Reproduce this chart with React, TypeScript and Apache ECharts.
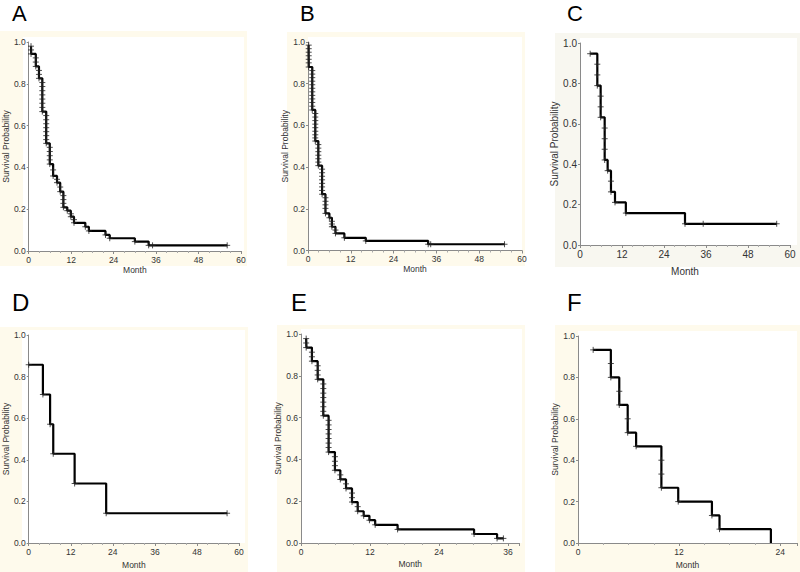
import React, { useEffect, useRef } from "react";
import * as echarts from "echarts";

// ---------- Data (months, survival probability) ----------
const monthsA = [0.65, 0.7, 2.0, 2.9, 3.85, 4.95, 5.95, 6.9, 8.0, 8.9, 9.8, 10.9, 11.9, 12.8, 16.0, 17.0, 21.7, 22.9, 30.0, 33.9, 56.1];
const survA = [0.98, 0.943, 0.883, 0.826, 0.667, 0.515, 0.416, 0.359, 0.327, 0.284, 0.209, 0.193, 0.164, 0.135, 0.116, 0.096, 0.077, 0.061, 0.045, 0.027, 0.027];
const marksA = [
  [0.65, 0.98], [0.65, 0.962], [0.65, 0.943],
  [2.0, 0.924], [2.0, 0.904], [2.0, 0.883],
  [2.9, 0.864], [2.9, 0.845], [2.9, 0.826],
  [3.85, 0.806], [3.85, 0.787], [3.85, 0.767], [3.85, 0.747], [3.85, 0.727], [3.85, 0.707], [3.85, 0.687], [3.85, 0.667],
  [4.95, 0.648], [4.95, 0.628], [4.95, 0.609], [4.95, 0.59], [4.95, 0.571], [4.95, 0.552], [4.95, 0.533], [4.95, 0.515],
  [5.95, 0.496], [5.95, 0.476], [5.95, 0.456], [5.95, 0.436], [5.95, 0.416],
  [6.9, 0.388], [6.9, 0.359], [8.0, 0.343], [8.0, 0.327], [8.9, 0.306], [8.9, 0.284],
  [9.8, 0.265], [9.8, 0.246], [9.8, 0.228], [9.8, 0.209], [10.9, 0.193],
  [11.9, 0.178], [11.9, 0.164], [12.8, 0.15], [12.8, 0.135],
  [16.0, 0.116], [17.0, 0.096], [21.7, 0.077], [22.9, 0.061], [30.0, 0.045], [33.9, 0.027], [35.0, 0.027], [56.1, 0.027],
];

const monthsB = [0.15, 0.2, 1.2, 2.05, 2.9, 3.95, 4.9, 6.0, 6.7, 7.7, 10.2, 16.2, 33.7, 55.1];
const survB = [0.985, 0.88, 0.674, 0.525, 0.407, 0.27, 0.178, 0.157, 0.114, 0.082, 0.061, 0.046, 0.03, 0.03];
const marksB = [
  [0.2, 0.985], [0.2, 0.968], [0.2, 0.951], [0.2, 0.934], [0.2, 0.917], [0.2, 0.9], [0.2, 0.88],
  [1.2, 0.863], [1.2, 0.846], [1.2, 0.829], [1.2, 0.812], [1.2, 0.795], [1.2, 0.778], [1.2, 0.761], [1.2, 0.744], [1.2, 0.727], [1.2, 0.71], [1.2, 0.692], [1.2, 0.674],
  [2.05, 0.657], [2.05, 0.64], [2.05, 0.623], [2.05, 0.606], [2.05, 0.589], [2.05, 0.572], [2.05, 0.555], [2.05, 0.54], [2.05, 0.525],
  [2.9, 0.508], [2.9, 0.491], [2.9, 0.474], [2.9, 0.457], [2.9, 0.44], [2.9, 0.424], [2.9, 0.407],
  [3.95, 0.39], [3.95, 0.373], [3.95, 0.356], [3.95, 0.339], [3.95, 0.322], [3.95, 0.305], [3.95, 0.288], [3.95, 0.27],
  [4.9, 0.253], [4.9, 0.236], [4.9, 0.219], [4.9, 0.202], [4.9, 0.178],
  [6.0, 0.157], [6.7, 0.14], [6.7, 0.127], [6.7, 0.114], [7.7, 0.098], [7.7, 0.082],
  [10.2, 0.061], [16.2, 0.046], [33.7, 0.03], [34.4, 0.03], [55.1, 0.03],
];

const monthsC = [2.9, 4.95, 5.9, 7.05, 7.9, 8.85, 10.0, 13.1, 30.0, 56.2];
const survC = [0.947, 0.789, 0.632, 0.421, 0.368, 0.263, 0.211, 0.158, 0.105, 0.105];
const marksC = [
  [2.9, 0.947], [4.95, 0.895], [4.95, 0.842], [4.95, 0.789], [5.9, 0.737], [5.9, 0.684], [5.9, 0.632],
  [7.05, 0.579], [7.05, 0.526], [7.05, 0.474], [7.05, 0.421], [7.9, 0.368], [8.85, 0.316], [8.85, 0.263],
  [10.0, 0.211], [13.1, 0.158], [30.0, 0.105], [35.2, 0.105], [56.2, 0.105],
];

const monthsD = [0, 4.05, 6.1, 7.0, 13.1, 22.1, 56.6];
const survD = [0.857, 0.714, 0.571, 0.429, 0.286, 0.143, 0.143];
const marksD = [
  [0, 0.857], [4.05, 0.714], [6.1, 0.571], [7.0, 0.429], [13.1, 0.286], [22.1, 0.143], [56.6, 0.143],
];

const monthsE = [0.9, 0.95, 1.9, 2.9, 3.88, 4.8, 5.9, 6.84, 7.83, 8.87, 9.86, 10.9, 11.9, 12.9, 16.8, 30.1, 34.1, 35.2];
const survE = [0.978, 0.935, 0.87, 0.783, 0.609, 0.435, 0.348, 0.304, 0.261, 0.196, 0.152, 0.13, 0.109, 0.087, 0.065, 0.043, 0.022, 0.022];
const marksE = [
  [0.9, 0.978], [0.9, 0.957], [0.9, 0.935],
  [1.9, 0.913], [1.9, 0.891], [1.9, 0.87],
  [2.9, 0.848], [2.9, 0.826], [2.9, 0.804], [2.9, 0.783],
  [3.88, 0.761], [3.88, 0.739], [3.88, 0.717], [3.88, 0.696], [3.88, 0.674], [3.88, 0.652], [3.88, 0.63], [3.88, 0.609],
  [4.8, 0.587], [4.8, 0.565], [4.8, 0.543], [4.8, 0.522], [4.8, 0.5], [4.8, 0.478], [4.8, 0.457], [4.8, 0.435],
  [5.9, 0.413], [5.9, 0.391], [5.9, 0.37], [5.9, 0.348],
  [6.84, 0.326], [6.84, 0.304], [7.83, 0.283], [7.83, 0.261],
  [8.87, 0.239], [8.87, 0.217], [8.87, 0.196], [9.86, 0.174], [9.86, 0.152],
  [10.9, 0.13], [11.9, 0.109], [12.9, 0.087], [16.8, 0.065], [30.1, 0.043], [34.1, 0.022], [35.2, 0.022],
];

const monthsF = [1.8, 3.9, 4.9, 5.9, 6.9, 9.9, 11.9, 15.9, 16.8, 22.9];
const survF = [0.933, 0.8, 0.667, 0.533, 0.467, 0.267, 0.2, 0.133, 0.067, 0];
const marksF = [
  [1.8, 0.933], [3.9, 0.867], [3.9, 0.8], [4.9, 0.733], [4.9, 0.667], [5.9, 0.6], [5.9, 0.533],
  [6.9, 0.467], [9.9, 0.4], [9.9, 0.333], [9.9, 0.267], [11.9, 0.2], [15.9, 0.133], [16.8, 0.067],
];

const yTicks = [0, 0.2, 0.4, 0.6, 0.8, 1.0];
const xTickStep = 12;

// ---------- Layout (positions / styles) ----------
const panels = [
  { letter: "A", months: monthsA, surv: survA, marks: marksA, xMax: 60, grid: { left: 23, top: 42, width: 218, height: 209 }, bg: [0, 31, 247, 235], bgColor: "#FEFAEC", letterPos: [12, 13.4], letterSize: 22, yGap: 16, xGap: 14, font: 8.5 },
  { letter: "B", months: monthsB, surv: survB, marks: marksB, xMax: 60, grid: { left: 308, top: 42, width: 214, height: 208.5 }, bg: [287, 32, 238, 234], bgColor: "#FEFAEC", letterPos: [300, 13.4], letterSize: 22, yGap: 17, xGap: 14, font: 8.5 },
  { letter: "C", months: monthsC, surv: survC, marks: marksC, xMax: 60, grid: { left: 580, top: 43, width: 210, height: 202 }, bg: [555, 33, 245, 234], bgColor: "#F8F7F0", letterPos: [567, 13.4], letterSize: 22, yGap: 19, xGap: 21, font: 10 },
  { letter: "D", months: monthsD, surv: survD, marks: marksD, xMax: 60, grid: { left: 22, top: 335, width: 217, height: 208 }, bg: [0, 327, 248, 245], bgColor: "#FEFAEC", letterPos: [12, 302.2], letterSize: 24, yGap: 16, xGap: 17, font: 8.5 },
  { letter: "E", months: monthsE, surv: survE, marks: marksE, xMax: 38, grid: { left: 301, top: 334, width: 218.5, height: 209 }, bg: [277, 325, 248, 247], bgColor: "#FEFAEC", letterPos: [291, 302.2], letterSize: 24, yGap: 18, xGap: 16, font: 8.5 },
  { letter: "F", months: monthsF, surv: survF, marks: marksF, xMax: 26, grid: { left: 578, top: 336, width: 221, height: 207 }, bg: [555, 325, 245, 247], bgColor: "#FEFAEC", letterPos: [567, 302.2], letterSize: 24, yGap: 18, xGap: 17, font: 8.5 },
];

const tickFont = "'Liberation Sans Narrow', 'Liberation Sans', Arial, sans-serif";
const letterFont = "'Liberation Sans', Arial, sans-serif";
const plusSymbol = "path://M0,5L10,5M5,0L5,10";

export default function App() {
  const ref = useRef<HTMLDivElement>(null);

  useEffect(() => {
    document.body.style.margin = "0";
    const chart = echarts.init(ref.current!, null, { renderer: "svg" });

    const grids: any[] = [];
    const xAxes: any[] = [];
    const yAxes: any[] = [];
    const series: any[] = [];
    const graphics: any[] = [];

    panels.forEach((p, i) => {
      grids.push({ ...p.grid, containLabel: false });
      const [bx, by, bw, bh] = p.bg;
      graphics.push({ type: "rect", z: -10, shape: { x: bx, y: by, width: bw, height: bh }, style: { fill: p.bgColor } });
      const whiteRight = Math.min(bx + bw - 3, 800);
      graphics.push({
        type: "rect", z: -9,
        shape: { x: p.grid.left, y: p.grid.top - 5, width: whiteRight - p.grid.left, height: p.grid.height + 5 },
        style: { fill: "#FFFFFF" },
      });
      graphics.push({
        type: "text", z: 10, x: p.letterPos[0], y: p.letterPos[1],
        style: { text: p.letter, fill: "#000", font: `${p.letterSize}px ${letterFont}`, verticalAlign: "middle", align: "left" },
      });

      xAxes.push({
        gridIndex: i, type: "value", min: 0, max: p.xMax, interval: xTickStep,
        name: "Month", nameLocation: "middle", nameGap: p.xGap,
        nameTextStyle: { fontSize: p.font, color: "#333", fontFamily: tickFont },
        axisLine: { show: true, lineStyle: { color: "#8a8a8a", width: 1 } },
        axisTick: { show: true, length: 3, lineStyle: { color: "#8a8a8a" } },
        minorTick: { show: true, splitNumber: 4, length: 2, lineStyle: { color: "#aaaaaa" } },
        splitLine: { show: false },
        axisLabel: {
          fontSize: p.font, color: "#333", fontFamily: tickFont, margin: 4,
          formatter: (v: number) => (v % xTickStep === 0 ? String(v) : ""),
        },
      });
      yAxes.push({
        gridIndex: i, type: "value", min: yTicks[0], max: yTicks[yTicks.length - 1], interval: 0.2,
        name: "Survival Probability", nameLocation: "middle", nameGap: p.yGap,
        nameTextStyle: { fontSize: p.font, color: "#333", fontFamily: tickFont },
        axisLine: { show: true, lineStyle: { color: "#8a8a8a", width: 1 } },
        axisTick: { show: true, length: 2, lineStyle: { color: "#8a8a8a" } },
        splitLine: { show: false },
        axisLabel: { fontSize: p.font, color: "#333", fontFamily: tickFont, margin: 3, formatter: (v: number) => v.toFixed(1) },
      });

      series.push({
        type: "line", xAxisIndex: i, yAxisIndex: i, step: "end", showSymbol: false, symbol: "none",
        data: p.months.map((t, k) => [t, p.surv[k]]),
        lineStyle: { color: "#000", width: 2.2 }, z: 3,
      });
      series.push({
        type: "scatter", xAxisIndex: i, yAxisIndex: i, symbol: plusSymbol, symbolSize: 6,
        data: p.marks,
        itemStyle: { color: "rgba(0,0,0,0)", borderColor: "#222", borderWidth: 1 }, z: 4,
      });
    });

    chart.setOption({
      animation: false,
      backgroundColor: "#FFFFFF",
      grid: grids,
      xAxis: xAxes,
      yAxis: yAxes,
      series,
      graphic: graphics,
    });

    return () => chart.dispose();
  }, []);

  return <div ref={ref} style={{ width: 800, height: 572 }} />;
}
